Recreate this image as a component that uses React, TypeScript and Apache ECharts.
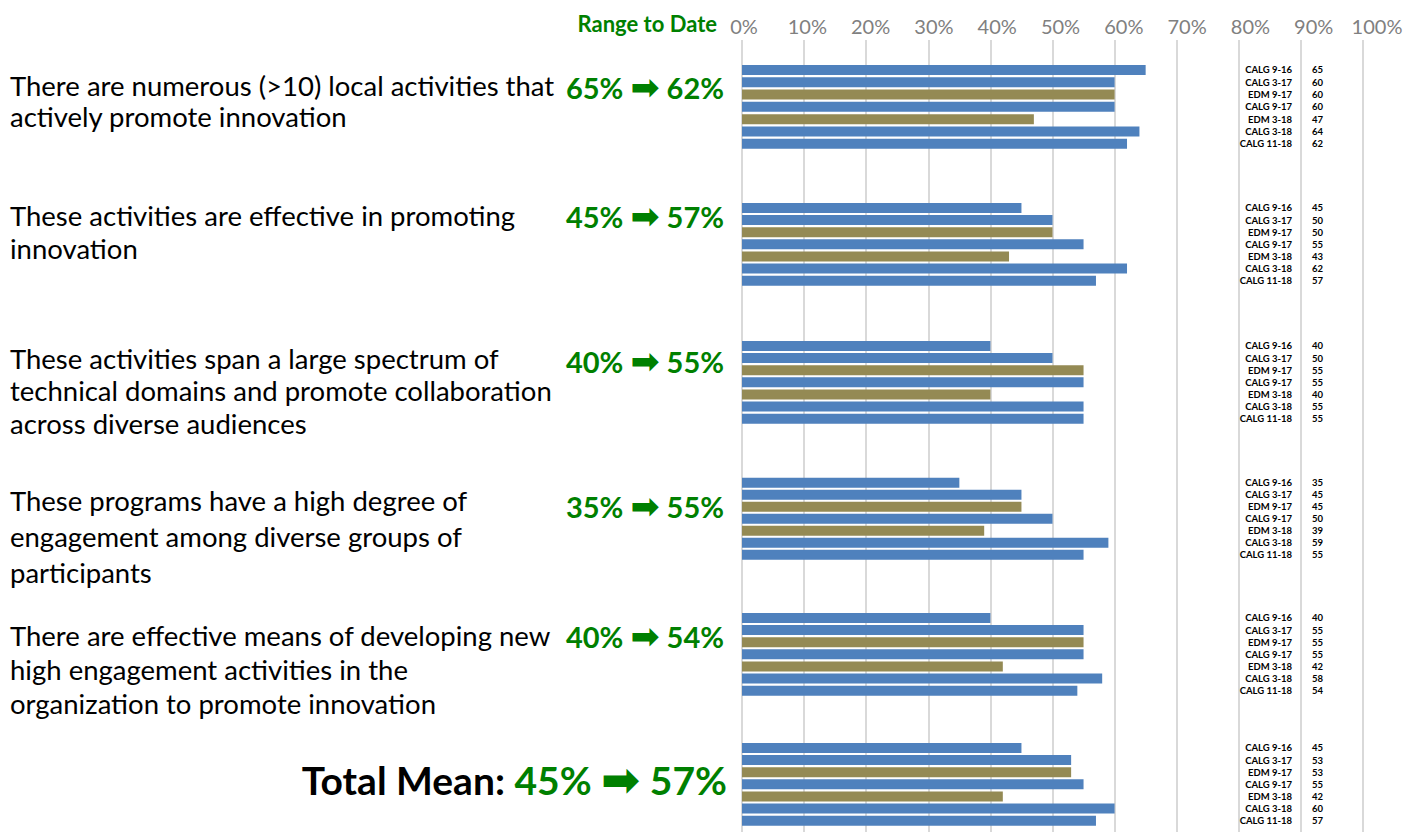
import React, { useEffect, useRef } from "react";
import * as echarts from "echarts";

// ---------- DATA ----------
const surveys = ["CALG 9-16", "CALG 3-17", "EDM 9-17", "CALG 9-17", "EDM 3-18", "CALG 3-18", "CALG 11-18"];
const questions = [
  "There are numerous (>10) local activities that\nactively promote innovation",
  "These activities are effective in promoting\ninnovation",
  "These activities span a large spectrum of\ntechnical domains and promote collaboration\nacross diverse audiences",
  "These programs have a high degree of\nengagement among diverse groups of\nparticipants",
  "There are effective means of developing new\nhigh engagement activities in the\norganization to promote innovation",
];
const totalLabel = "Total Mean:";
const rangeFrom = [65, 45, 40, 35, 40, 45];
const rangeTo = [62, 57, 55, 55, 54, 57];
const q1Values = [65, 60, 60, 60, 47, 64, 62];
const q2Values = [45, 50, 50, 55, 43, 62, 57];
const q3Values = [40, 50, 55, 55, 40, 55, 55];
const q4Values = [35, 45, 45, 50, 39, 59, 55];
const q5Values = [40, 55, 55, 55, 42, 58, 54];
const meanValues = [45, 53, 53, 55, 42, 60, 57];
const groupValues = [q1Values, q2Values, q3Values, q4Values, q5Values, meanValues];
const axisTicks = [0, 10, 20, 30, 40, 50, 60, 70, 80, 90, 100];

// ---------- STYLE / LAYOUT ----------
const FONT = 'Lato, "Noto Sans", "DejaVu Sans", sans-serif';
const ARROW_FONT = '"DejaVu Sans", sans-serif';
const BLUE = "#4F81BD";
const OLIVE = "#948A54";
const GREEN = "#008000";
const GRID_COLOR = "#D9D9D9";
const PLOT_LEFT = 742;
const PLOT_RIGHT = 44;
const groupGrids = [
  { top: 63.85, height: 86 },
  { top: 201.94, height: 84.8 },
  { top: 339.94, height: 84.8 },
  { top: 476.7, height: 84 },
  { top: 611.94, height: 84.8 },
  { top: 741.94, height: 84.8 },
];
const questionLayout = [
  { top: 70, lh: 31 },
  { top: 199, lh: 33 },
  { top: 342, lh: 32.5 },
  { top: 482, lh: 36 },
  { top: 618, lh: 34 },
];
const greenY = [87, 216, 361, 506, 636, 780];

export default function App() {
  const ref = useRef<HTMLDivElement>(null);

  useEffect(() => {
    if (!ref.current) return;
    const chart = echarts.init(ref.current, undefined, { renderer: "svg" });

    const grids: any[] = [];
    const xAxes: any[] = [];
    const yAxes: any[] = [];
    const series: any[] = [];

    groupValues.forEach((vals, gi) => {
      grids.push({ left: PLOT_LEFT, right: PLOT_RIGHT, top: groupGrids[gi].top, height: groupGrids[gi].height });
      xAxes.push({ type: "value", gridIndex: gi, min: 0, max: 100, show: false });
      yAxes.push({
        type: "category",
        gridIndex: gi,
        data: surveys,
        inverse: true,
        position: "left",
        offset: -550,
        axisLine: { show: false },
        axisTick: { show: false },
        splitLine: { show: false },
        axisLabel: {
          interval: 0,
          margin: 0,
          fontSize: 9.5,
          fontWeight: "bold",
          fontFamily: FONT,
          color: "#000",
          align: "right",
        },
      });
      series.push({
        type: "bar",
        xAxisIndex: gi,
        yAxisIndex: gi,
        barWidth: 10,
        data: vals.map((v, i) => ({
          value: v,
          itemStyle: { color: surveys[i].startsWith("EDM") ? OLIVE : BLUE },
        })),
        label: {
          show: true,
          position: [570, "50%"],
          align: "left",
          verticalAlign: "middle",
          formatter: "{c}",
          fontSize: 9.5,
          fontWeight: "bold",
          fontFamily: FONT,
          color: "#000",
        },
        z: 3,
      });
    });

    // gridline grid
    const gl = grids.length;
    grids.push({ left: PLOT_LEFT, right: PLOT_RIGHT, top: 40, bottom: 6 });
    xAxes.push({
      type: "value",
      gridIndex: gl,
      min: 0,
      max: 100,
      interval: 10,
      axisLine: { show: false },
      axisTick: { show: false },
      axisLabel: { show: false },
      splitLine: { show: true, lineStyle: { color: GRID_COLOR, width: 2 } },
    });
    yAxes.push({ type: "value", gridIndex: gl, show: false, min: 0, max: 1 });

    // tick-label axis
    const la = grids.length;
    grids.push({ left: 744, right: 30, top: 40, height: 1 });
    xAxes.push({
      type: "value",
      gridIndex: la,
      position: "top",
      min: axisTicks[0],
      max: axisTicks[axisTicks.length - 1],
      interval: axisTicks[1] - axisTicks[0],
      axisLine: { show: false },
      axisTick: { show: false },
      splitLine: { show: false },
      axisLabel: {
        show: true,
        margin: 4,
        formatter: "{value}%",
        fontSize: 20,
        fontFamily: FONT,
        color: "#808080",
      },
    });
    yAxes.push({ type: "value", gridIndex: la, show: false, min: 0, max: 1 });

    const graphics: any[] = [];
    graphics.push({
      type: "text",
      x: 717,
      y: 23,
      style: {
        text: "Range to Date",
        fontSize: 22,
        fontWeight: "bold",
        fontFamily: FONT,
        fill: GREEN,
        align: "right",
        verticalAlign: "middle",
      },
    });
    const greenRich = (size: number) => ({
      g: { fontSize: size, fontWeight: "bold", fontFamily: FONT, fill: GREEN, color: GREEN },
      a: { fontSize: size * 1.2, fontWeight: "bold", fontFamily: ARROW_FONT, fill: GREEN, color: GREEN },
      b: { fontSize: size, fontWeight: "bold", fontFamily: FONT, fill: "#000", color: "#000" },
    });
    questions.forEach((q, i) => {
      graphics.push({
        type: "text",
        x: 10,
        y: questionLayout[i].top,
        style: {
          text: q,
          fontSize: 27.5,
          fontFamily: FONT,
          fill: "#000",
          lineHeight: questionLayout[i].lh,
          align: "left",
          verticalAlign: "top",
        },
      });
      graphics.push({
        type: "text",
        x: 724,
        y: greenY[i],
        style: {
          text: `{g|${rangeFrom[i]}% }{a|\u27A1}{g| ${rangeTo[i]}%}`,
          rich: greenRich(29),
          fill: GREEN,
          align: "right",
          verticalAlign: "middle",
        },
      });
    });
    const last = rangeFrom.length - 1;
    graphics.push({
      type: "text",
      x: 727,
      y: greenY[last],
      style: {
        text: `{b|${totalLabel} }{g|${rangeFrom[last]}% }{a|\u27A1}{g| ${rangeTo[last]}%}`,
        align: "right",
        verticalAlign: "middle",
        rich: greenRich(39),
      },
    });

    chart.setOption({
      animation: false,
      backgroundColor: "#fff",
      grid: grids,
      xAxis: xAxes,
      yAxis: yAxes,
      series,
      graphic: graphics,
    });

    return () => chart.dispose();
  }, []);

  return (
    <div
      ref={ref}
      style={{ position: "fixed", left: 0, top: 0, width: 1407, height: 838 }}
    />
  );
}
